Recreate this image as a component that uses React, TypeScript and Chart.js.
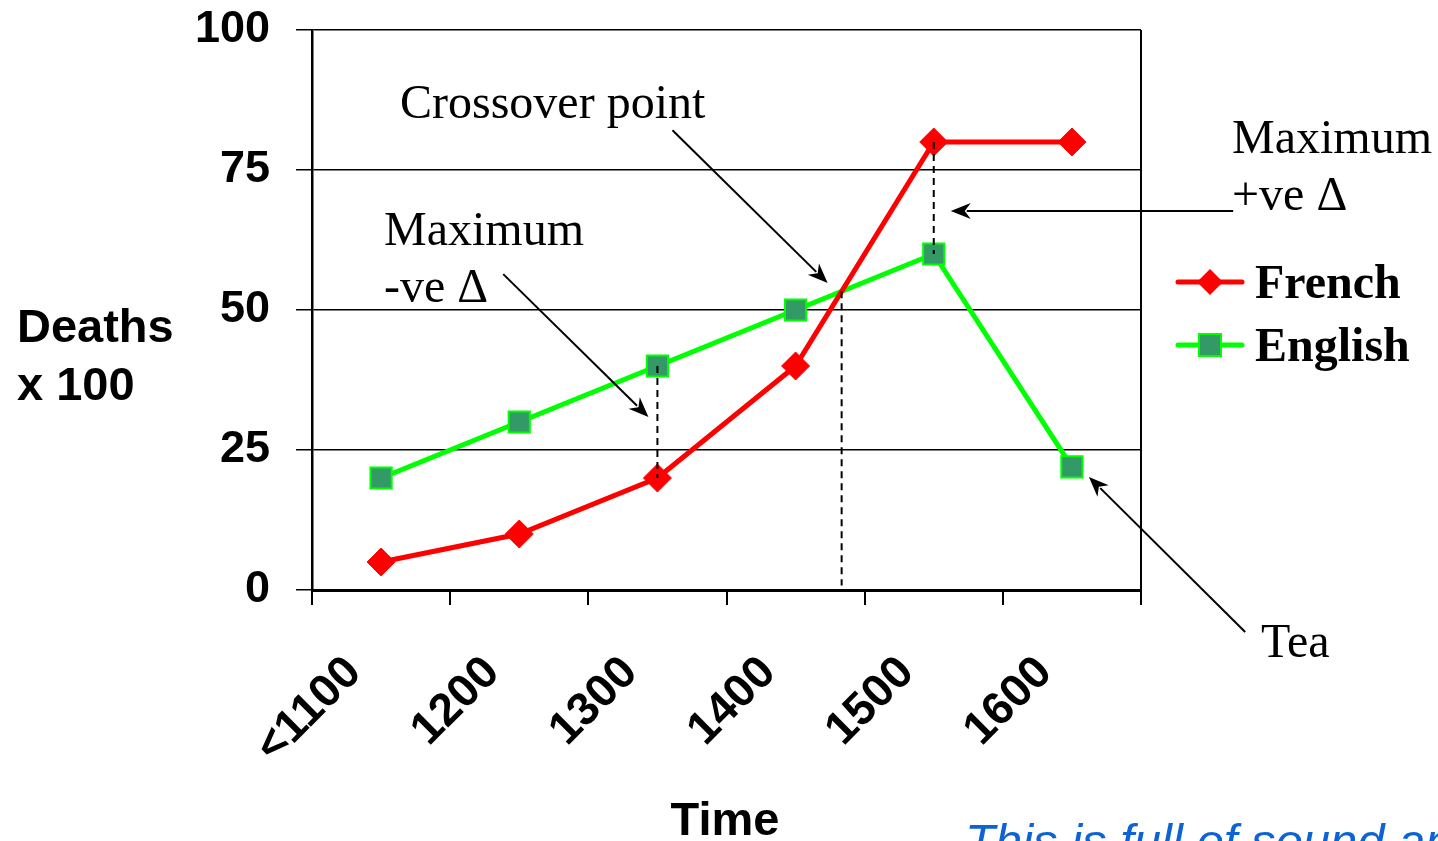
import React, { useEffect, useRef } from 'react';
import { Chart, registerables } from 'chart.js';

Chart.register(...registerables);

const categories = ['<1100', '1200', '1300', '1400', '1500', '1600'];
const frenchValues = [5, 10, 20, 40, 80, 80];
const englishValues = [20, 30, 40, 50, 60, 22];
const yMin = 0;
const yMax = 100;
const yStep = 25;

const SANS = '"Liberation Sans", Arial, sans-serif';
const SERIF = '"Liberation Serif", "Times New Roman", serif';

function arrow(ctx: CanvasRenderingContext2D, x1: number, y1: number, x2: number, y2: number) {
  const ang = Math.atan2(y2 - y1, x2 - x1);
  const hl = 20;
  const hw = 8;
  ctx.save();
  ctx.strokeStyle = '#000';
  ctx.fillStyle = '#000';
  ctx.lineWidth = 2;
  ctx.setLineDash([]);
  ctx.beginPath();
  ctx.moveTo(x1, y1);
  ctx.lineTo(x2 - Math.cos(ang) * hl * 0.8, y2 - Math.sin(ang) * hl * 0.8);
  ctx.stroke();
  ctx.beginPath();
  ctx.moveTo(x2, y2);
  ctx.lineTo(x2 - Math.cos(ang) * hl + Math.sin(ang) * hw, y2 - Math.sin(ang) * hl - Math.cos(ang) * hw);
  ctx.lineTo(x2 - Math.cos(ang) * hl * 0.7, y2 - Math.sin(ang) * hl * 0.7);
  ctx.lineTo(x2 - Math.cos(ang) * hl - Math.sin(ang) * hw, y2 - Math.sin(ang) * hl + Math.cos(ang) * hw);
  ctx.closePath();
  ctx.fill();
  ctx.restore();
}

function dashed(ctx: CanvasRenderingContext2D, x: number, y1: number, y2: number) {
  ctx.save();
  ctx.strokeStyle = '#000';
  ctx.lineWidth = 2;
  ctx.setLineDash([7, 5]);
  ctx.beginPath();
  ctx.moveTo(x, y1);
  ctx.lineTo(x, y2);
  ctx.stroke();
  ctx.restore();
}

const annotationPlugin = {
  id: 'annotations',
  afterDatasetsDraw(chart: any) {
    const ctx: CanvasRenderingContext2D = chart.ctx;
    const xs = chart.scales.x;
    const ys = chart.scales.y;
    const px = (i: number) => xs.getPixelForValue(i);
    const py = (v: number) => ys.getPixelForValue(v);

    // right border of plot area
    ctx.save();
    ctx.strokeStyle = '#000';
    ctx.lineWidth = 2;
    ctx.beginPath();
    ctx.moveTo(chart.chartArea.right, chart.chartArea.top);
    ctx.lineTo(chart.chartArea.right, chart.chartArea.bottom);
    ctx.stroke();
    ctx.restore();

    // maximum negative difference (1300)
    dashed(ctx, px(2), py(englishValues[2]), py(frenchValues[2]));
    // maximum positive difference (1500)
    dashed(ctx, px(4), py(frenchValues[4]), py(englishValues[4]));
    // crossover between 1400 and 1500
    const t = (englishValues[3] - frenchValues[3]) /
      ((frenchValues[4] - frenchValues[3]) - (englishValues[4] - englishValues[3]));
    const crossVal = frenchValues[3] + t * (frenchValues[4] - frenchValues[3]);
    dashed(ctx, px(3 + t), py(crossVal), py(0.8));

    // arrows (data coordinates)
    arrow(ctx, px(0.884), py(56.4), px(1.935), py(30.9));
    arrow(ctx, px(2.109), py(82.1), px(3.232), py(54.8));
    arrow(ctx, px(6.167), py(67.7), px(4.123), py(67.7));
    arrow(ctx, px(6.254), py(-7.5), px(5.123), py(20.2));
  },
  afterDraw(chart: any) {
    const ctx: CanvasRenderingContext2D = chart.ctx;
    ctx.save();
    ctx.fillStyle = '#000';
    ctx.textAlign = 'left';
    ctx.textBaseline = 'alphabetic';

    // annotation texts
    ctx.font = `48px ${SERIF}`;
    ctx.fillText('Crossover point', 400, 118);
    ctx.fillText('Maximum', 384, 245);
    ctx.fillText('-ve \u0394', 384, 302);
    ctx.fillText('Maximum', 1232, 153);
    ctx.fillText('+ve \u0394', 1232, 210);
    ctx.fillText('Tea', 1261, 657);

    // axis titles
    ctx.font = `bold 47px ${SANS}`;
    ctx.fillText('Deaths', 17, 342);
    ctx.fillText('x 100', 17, 400);
    ctx.textAlign = 'center';
    ctx.fillText('Time', 725, 835);

    // legend
    const ds = chart.data.datasets;
    const legendRows = [282, 345];
    ds.forEach((d: any, k: number) => {
      const y = legendRows[k];
      ctx.save();
      ctx.strokeStyle = d.borderColor;
      ctx.lineWidth = d.borderWidth;
      ctx.lineCap = 'round';
      ctx.beginPath();
      ctx.moveTo(1178, y);
      ctx.lineTo(1242, y);
      ctx.stroke();
      ctx.restore();
      if (k === 0) {
        ctx.save();
        ctx.fillStyle = d.pointBackgroundColor;
        ctx.beginPath();
        ctx.moveTo(1210, y - 13);
        ctx.lineTo(1223, y);
        ctx.lineTo(1210, y + 13);
        ctx.lineTo(1197, y);
        ctx.closePath();
        ctx.fill();
        ctx.restore();
      } else {
        ctx.save();
        ctx.fillStyle = d.pointBackgroundColor;
        ctx.strokeStyle = d.pointBorderColor;
        ctx.lineWidth = d.pointBorderWidth;
        ctx.fillRect(1199, y - 11, 22, 22);
        ctx.strokeRect(1199, y - 11, 22, 22);
        ctx.restore();
      }
      ctx.fillStyle = '#000';
      ctx.textAlign = 'left';
      ctx.font = `bold 48px ${SERIF}`;
      ctx.fillText(d.label, 1255, y + 16);
    });

    // footer text (cut off at page bottom)
    ctx.fillStyle = '#0b63d4';
    ctx.font = `italic 49px ${SANS}`;
    ctx.textAlign = 'left';
    ctx.fillText('This is full of sound and fury', 965, 858);
    ctx.restore();
  },
};

export default function App() {
  const ref = useRef<HTMLCanvasElement | null>(null);
  useEffect(() => {
    if (!ref.current) return;
    const chart = new Chart(ref.current, {
      type: 'line',
      data: {
        labels: categories,
        datasets: [
          {
            label: 'French',
            data: frenchValues,
            borderColor: '#ff0000',
            backgroundColor: '#ff0000',
            borderWidth: 5,
            pointStyle: 'rectRot',
            pointRadius: 14,
            pointBackgroundColor: '#ff0000',
            pointBorderColor: '#ff0000',
            pointBorderWidth: 1,
            tension: 0,
          },
          {
            label: 'English',
            data: englishValues,
            borderColor: '#00ff00',
            backgroundColor: '#339966',
            borderWidth: 5,
            pointStyle: 'rect',
            pointRadius: 15,
            pointBackgroundColor: '#339966',
            pointBorderColor: '#00ff00',
            pointBorderWidth: 2,
            tension: 0,
          },
        ],
      },
      options: {
        responsive: false,
        animation: false,
        devicePixelRatio: 1,
        layout: { padding: { left: 0, right: 297, top: 30, bottom: 0 } },
        plugins: {
          legend: { display: false },
          tooltip: { enabled: false },
          title: { display: false },
        },
        scales: {
          x: {
            type: 'category',
            offset: true,
            grid: {
              display: true,
              offset: true,
              drawOnChartArea: false,
              drawTicks: true,
              tickLength: 15,
              color: '#000',
              lineWidth: 2,
            },
            border: { display: true, color: '#000', width: 3 },
            ticks: {
              autoSkip: false,
              maxRotation: 45,
              minRotation: 45,
              labelOffset: -27,
              padding: 41,
              color: '#000',
              font: { family: SANS, size: 46, weight: 'bold' },
            },
            afterFit: (s: any) => { s.height = 251; s.paddingTop = 0; s.paddingBottom = 0; },
          },
          y: {
            min: yMin,
            max: yMax,
            grid: {
              color: '#000',
              lineWidth: 1.5,
              drawTicks: true,
              tickLength: 16,
            },
            border: { display: true, color: '#000', width: 2.5 },
            ticks: {
              stepSize: yStep,
              padding: 26,
              color: '#000',
              font: { family: SANS, size: 45, weight: 'bold' },
            },
            afterFit: (s: any) => { s.width = 312; s.paddingTop = 0; s.paddingBottom = 0; },
          },
        },
      },
      plugins: [annotationPlugin],
    });
    return () => chart.destroy();
  }, []);
  return (
    <div style={{ position: 'fixed', left: 0, top: 0, width: 1438, height: 841, background: '#fff', overflow: 'hidden' }}>
      <canvas ref={ref} width={1438} height={841} style={{ display: 'block', width: 1438, height: 841 }} />
    </div>
  );
}
